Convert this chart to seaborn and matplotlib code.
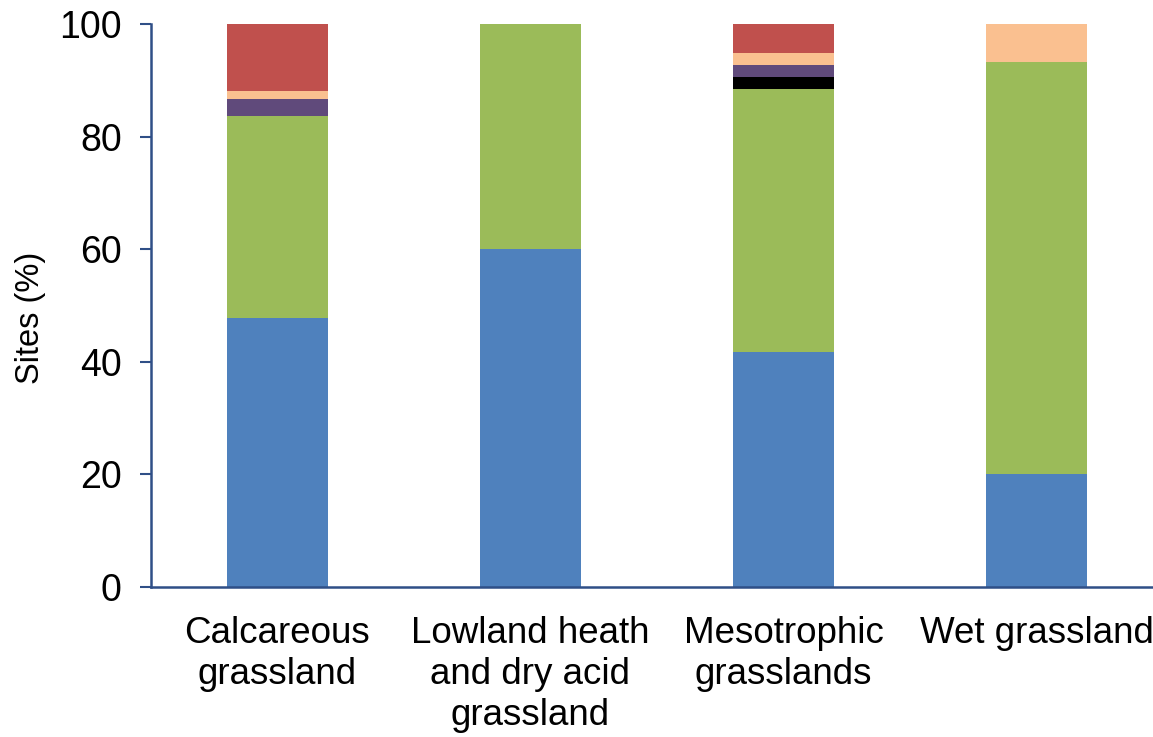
import numpy as np
import pandas as pd
import matplotlib
matplotlib.use("Agg")
import matplotlib.pyplot as plt
import seaborn as sns

# Habitat categories (x axis)
habitats = ["Calcareous\ngrassland", "Lowland heath\nand dry acid\ngrassland",
            "Mesotrophic\ngrasslands", "Wet grassland"]

# Share of sites (%) in each class, stacked bottom to top
class_1 = [47.8, 60.0, 41.7, 20.0]   # blue
class_2 = [35.8, 40.0, 46.8, 73.3]   # green
class_3 = [0.0, 0.0, 2.1, 0.0]       # black
class_4 = [3.0, 0.0, 2.1, 0.0]       # purple
class_5 = [1.5, 0.0, 2.1, 6.7]       # peach
class_6 = [11.9, 0.0, 5.2, 0.0]      # red

y_ticks = [0, 20, 40, 60, 80, 100]

layers = [class_1, class_2, class_3, class_4, class_5, class_6]
colors = ["#4F81BD", "#9BBB59", "#000000", "#604A7B", "#FAC090", "#C0504D"]

sns.set_theme(style="white")
plt.rcParams["font.family"] = ["Liberation Sans", "DejaVu Sans"]

fig = plt.figure(figsize=(11.53, 7.37), dpi=100)
ax = fig.add_axes([151 / 1153, 1 - 587 / 737, 1012 / 1153, 563 / 737])

cum = np.cumsum(np.array(layers), axis=0)
# draw cumulative totals from the top layer down so lower layers overlay
for k in range(len(layers) - 1, -1, -1):
    df = pd.DataFrame({"habitat": habitats, "value": cum[k]})
    sns.barplot(data=df, x="habitat", y="value", color=colors[k],
                saturation=1, width=0.4, ax=ax, linewidth=0, zorder=2)

spine_col = "#2F4F87"
ax.set_xlim(-0.5, 3.5)
ax.set_ylim(0, 100)
ax.set_yticks(y_ticks)
ax.set_yticklabels([str(t) for t in y_ticks])
ax.set_xticks([0, 1, 2, 3])
ax.set_xticklabels(habitats)
ax.set_xticks([-0.5, 0.5, 1.5, 2.5], minor=True)
ax.tick_params(axis="x", which="major", length=0, pad=21, labelsize=26.5,
               labelcolor="black")
ax.tick_params(axis="x", which="minor", length=8, width=1.5,
               color=spine_col, direction="out")
ax.tick_params(axis="y", length=8, width=1.5, color=spine_col,
               direction="out", labelsize=27, pad=13, left=True,
               labelcolor="black")
for lbl in ax.get_xticklabels():
    lbl.set_linespacing(1.22)

for side in ["top", "right"]:
    ax.spines[side].set_visible(False)
for side in ["left", "bottom"]:
    ax.spines[side].set_color(spine_col)
    ax.spines[side].set_linewidth(1.8)

ax.set_xlabel("")
ax.set_ylabel("Sites (%)", fontsize=23.5, color="black")
ax.yaxis.set_label_coords(-0.104, 0.478)
ax.grid(False)

fig.savefig("out.png", dpi=100)
